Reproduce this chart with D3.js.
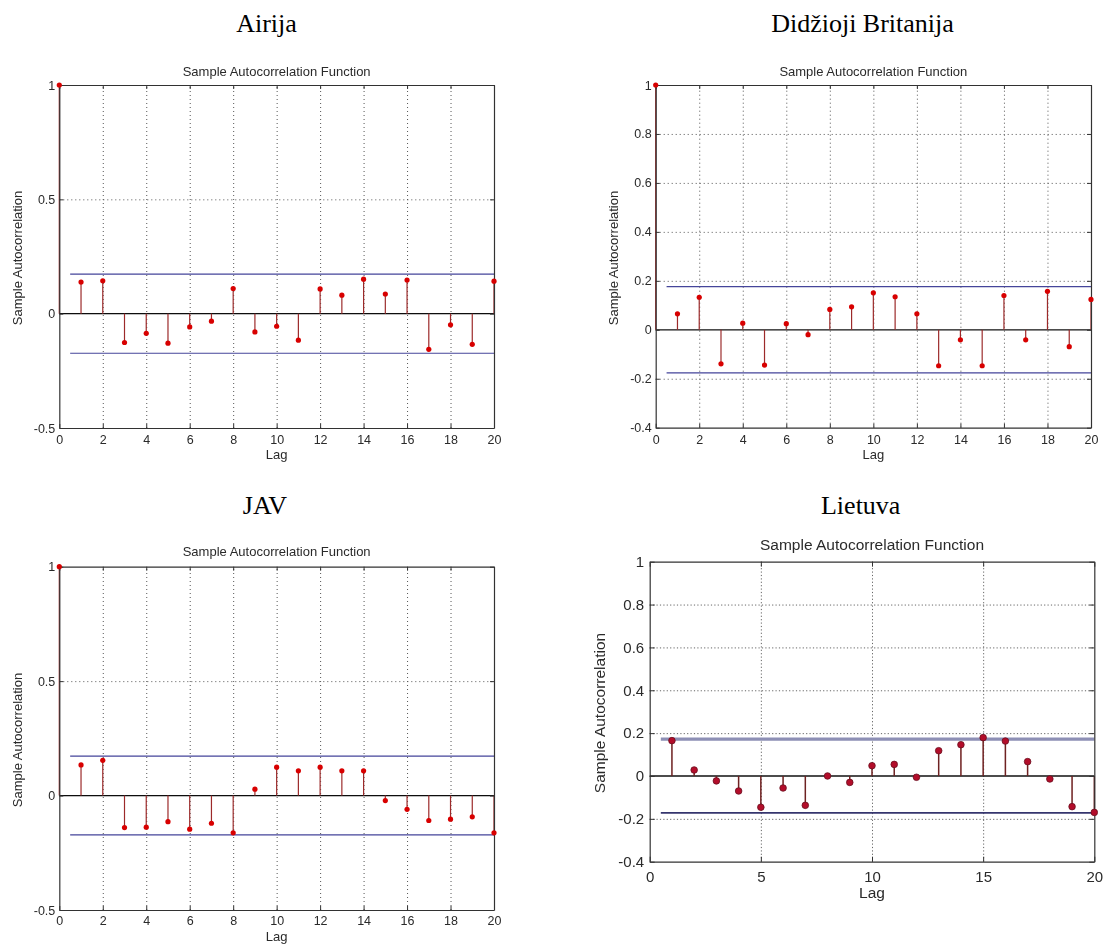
<!DOCTYPE html>
<html>
<head>
<meta charset="utf-8">
<script src="https://cdn.jsdelivr.net/npm/d3@7"></script>
<style>
  body { margin: 0; background: #fff; }
  svg { display: block; }
</style>
</head>
<body>
<svg id="chart" width="1106" height="945"></svg>
<script>
// Lags and sample autocorrelations for each country
const lagsFull = [0, 1, 2, 3, 4, 5, 6, 7, 8, 9, 10, 11, 12, 13, 14, 15, 16, 17, 18, 19, 20];
const lagsNoZero = [1, 2, 3, 4, 5, 6, 7, 8, 9, 10, 11, 12, 13, 14, 15, 16, 17, 18, 19, 20];

const acfAirija = [1, 0.138, 0.144, -0.126, -0.086, -0.129, -0.058, -0.033, 0.110, -0.080, -0.055,
                   -0.116, 0.108, 0.081, 0.151, 0.086, 0.147, -0.156, -0.049, -0.134, 0.142];
const acfBritanija = [1, 0.065, 0.133, -0.139, 0.027, -0.144, 0.025, -0.020, 0.083, 0.094, 0.151,
                      0.135, 0.065, -0.147, -0.041, -0.147, 0.140, -0.041, 0.157, -0.069, 0.124];
const acfJav = [1, 0.134, 0.154, -0.140, -0.138, -0.114, -0.147, -0.121, -0.163, 0.028, 0.124,
                0.108, 0.124, 0.108, 0.108, -0.022, -0.060, -0.109, -0.103, -0.093, -0.163];
const acfLietuva = [0.165, 0.028, -0.023, -0.070, -0.146, -0.056, -0.137, 0.000, -0.030, 0.048,
                    0.054, -0.006, 0.118, 0.146, 0.179, 0.163, 0.067, -0.014, -0.143, -0.170];

// Approximate 95% confidence bounds, drawn from lag 0.5 to the last lag
const boundAirija = 0.173;
const boundBritanija = 0.176;
const boundJav = 0.172;
const boundLietuva = 0.172;
const boundStartLag = 0.5;

// Tick values
const xTicksByTwo = [0, 2, 4, 6, 8, 10, 12, 14, 16, 18, 20];
const xTicksByFive = [0, 5, 10, 15, 20];
const yTicksHalf = [-0.5, 0, 0.5, 1];
const yTicksFifth = [-0.4, -0.2, 0, 0.2, 0.4, 0.6, 0.8, 1];

const headings = ["Airija", "Didžioji Britanija", "JAV", "Lietuva"];
const plotTitle = "Sample Autocorrelation Function";
const xLabel = "Lag";
const yLabel = "Sample Autocorrelation";

const svg = d3.select("#chart");
const defs = svg.append("defs");
defs.append("filter").attr("id", "soft").attr("x", "-5%").attr("y", "-5%").attr("width", "110%").attr("height", "110%")
  .append("feGaussianBlur").attr("stdDeviation", 0.35);
defs.append("filter").attr("id", "softer").attr("x", "-5%").attr("y", "-5%").attr("width", "110%").attr("height", "110%")
  .append("feGaussianBlur").attr("stdDeviation", 0.6);

// Country headings above each panel
const headingPos = [[266.5, 32], [862.5, 32], [265, 514], [860.7, 514]];
svg.selectAll("text.heading").data(headings).join("text")
  .attr("class", "heading")
  .attr("x", (d, i) => headingPos[i][0])
  .attr("y", (d, i) => headingPos[i][1])
  .attr("text-anchor", "middle")
  .style("font-family", "'Liberation Serif', 'Times New Roman', serif")
  .style("font-size", "26px")
  .style("fill", "#000")
  .text(d => d);

function drawPanel(p) {
  const g = svg.append("g").attr("filter", `url(#${p.filter})`);
  const x = d3.scaleLinear().domain([0, 20]).range([p.left, p.right]);
  const y = d3.scaleLinear().domain(p.yDomain).range([p.bottom, p.top]);
  const w = p.right - p.left, h = p.bottom - p.top;
  const font = "'Liberation Sans', Arial, Helvetica, sans-serif";

  // Dotted grid
  const gridX = p.xTicks.filter(v => v !== 0 && v !== 20);
  const gridY = p.yTicks.filter(v => v !== 0 && v !== p.yDomain[0] && v !== p.yDomain[1]);
  g.append("g").attr("transform", `translate(0,${p.bottom})`)
    .call(d3.axisBottom(x).tickValues(gridX).tickSize(-h).tickFormat(""))
    .call(a => a.select(".domain").remove())
    .call(a => a.selectAll("line").attr("stroke", p.gridColor).attr("stroke-dasharray", p.gridDash));
  g.append("g").attr("transform", `translate(${p.left},0)`)
    .call(d3.axisLeft(y).tickValues(gridY).tickSize(-w).tickFormat(""))
    .call(a => a.select(".domain").remove())
    .call(a => a.selectAll("line").attr("stroke", p.gridColor).attr("stroke-dasharray", p.gridDash));

  // Zero line
  g.append("line")
    .attr("x1", x(0)).attr("x2", x(20)).attr("y1", y(0)).attr("y2", y(0))
    .attr("stroke", "#111").attr("stroke-width", p.zeroWidth);

  // Confidence bounds
  [p.bound, -p.bound].forEach((b, i) => {
    g.append("line")
      .attr("x1", x(boundStartLag)).attr("x2", x(20)).attr("y1", y(b)).attr("y2", y(b))
      .attr("stroke", i === 0 ? p.upperColor : p.lowerColor)
      .attr("stroke-width", i === 0 ? p.upperWidth : p.lowerWidth);
  });

  // Stems and markers
  const pts = p.lags.map((l, i) => ({ lag: l, v: p.values[i] }));
  g.selectAll("line.stem").data(pts).join("line")
    .attr("class", "stem")
    .attr("x1", d => x(d.lag)).attr("x2", d => x(d.lag))
    .attr("y1", y(0)).attr("y2", d => y(d.v))
    .attr("stroke", p.stemColor).attr("stroke-width", p.stemWidth);

  // Axes box with inward ticks
  const tickLen = p.tickLen;
  const styleAxis = a => {
    a.select(".domain").attr("stroke", "#333").attr("stroke-width", 1.2);
    a.selectAll(".tick line").attr("stroke", "#333");
    a.selectAll("text").style("font-family", font).style("font-size", p.tickFont + "px").attr("fill", "#2a2a2a");
  };
  g.append("g").attr("transform", `translate(0,${p.bottom})`)
    .call(d3.axisBottom(x).tickValues(p.xTicks).tickSizeInner(-tickLen).tickSizeOuter(0)
      .tickPadding(p.xPad).tickFormat(d => String(d)))
    .call(styleAxis);
  g.append("g").attr("transform", `translate(0,${p.top})`)
    .call(d3.axisTop(x).tickValues(p.xTicks).tickSizeInner(-tickLen).tickSizeOuter(0).tickFormat(""))
    .call(styleAxis);
  g.append("g").attr("transform", `translate(${p.left},0)`)
    .call(d3.axisLeft(y).tickValues(p.yTicks).tickSizeInner(-tickLen).tickSizeOuter(0)
      .tickPadding(p.yPad).tickFormat(d => String(d)))
    .call(styleAxis);
  g.append("g").attr("transform", `translate(${p.right},0)`)
    .call(d3.axisRight(y).tickValues(p.yTicks).tickSizeInner(-tickLen).tickSizeOuter(0).tickFormat(""))
    .call(styleAxis);

  g.selectAll("circle.pt").data(pts).join("circle")
    .attr("class", "pt")
    .attr("cx", d => x(d.lag)).attr("cy", d => y(d.v))
    .attr("r", p.markerR)
    .attr("fill", p.markerColor)
    .attr("stroke", p.markerStroke).attr("stroke-width", p.markerStroke === "none" ? 0 : 0.8);

  // Title and axis labels
  g.append("text")
    .attr("x", (p.left + p.right) / 2).attr("y", p.top - p.titleGap)
    .attr("text-anchor", "middle")
    .style("font-family", font).style("font-size", p.titleFont + "px").attr("fill", "#2a2a2a")
    .text(plotTitle);
  g.append("text")
    .attr("x", (p.left + p.right) / 2).attr("y", p.bottom + p.lagGap)
    .attr("text-anchor", "middle")
    .style("font-family", font).style("font-size", p.labelFont + "px").attr("fill", "#2a2a2a")
    .text(xLabel);
  g.append("text")
    .attr("transform", `translate(${p.left - p.yLabelGap},${p.yLabelCenter}) rotate(-90)`)
    .attr("text-anchor", "middle")
    .style("font-family", font).style("font-size", p.labelFont + "px").attr("fill", "#2a2a2a")
    .text(yLabel);
}

const smallStyle = {
  xTicks: xTicksByTwo, tickLen: 4, xPad: 7, yPad: 4, tickFont: 12.5, titleFont: 13, labelFont: 13,
  titleGap: 9.5, lagGap: 31, yLabelGap: 37.5,
  gridColor: "#555", gridDash: "1,3", zeroWidth: 1.2,
  upperColor: "#45459a", lowerColor: "#45459a", upperWidth: 1.2, lowerWidth: 1.2,
  stemColor: "#9c2b2b", stemWidth: 1.2, markerR: 2.6, markerColor: "#d80000", markerStroke: "none",
  filter: "soft"
};

drawPanel(Object.assign({}, smallStyle, {
  left: 59.3, right: 494, top: 85, bottom: 428, yLabelCenter: 258,
  yDomain: [-0.5, 1], yTicks: yTicksHalf, lags: lagsFull, values: acfAirija, bound: boundAirija
}));
drawPanel(Object.assign({}, smallStyle, {
  left: 655.7, right: 1091, top: 85, bottom: 427.7, yLabelCenter: 258,
  yDomain: [-0.4, 1], yTicks: yTicksFifth, lags: lagsFull, values: acfBritanija, bound: boundBritanija
}));
drawPanel(Object.assign({}, smallStyle, {
  left: 59.3, right: 494, top: 566.7, bottom: 910, yLabelCenter: 740, titleGap: 10.5, xPad: 6.5,
  yDomain: [-0.5, 1], yTicks: yTicksHalf, lags: lagsFull, values: acfJav, bound: boundJav
}));
drawPanel({
  left: 649.7, right: 1094.3, top: 561.7, bottom: 861.7, yLabelCenter: 713,
  yDomain: [-0.4, 1], yTicks: yTicksFifth, lags: lagsNoZero, values: acfLietuva, bound: boundLietuva,
  xTicks: xTicksByFive, tickLen: 5, xPad: 9.5, yPad: 5.5, tickFont: 15, titleFont: 15.5, labelFont: 15.5,
  titleGap: 12, lagGap: 36, yLabelGap: 44.5,
  gridColor: "#666", gridDash: "1.2,2.2", zeroWidth: 1.5,
  upperColor: "#8d8fb5", lowerColor: "#35356e", upperWidth: 3.2, lowerWidth: 1.6,
  stemColor: "#6e2020", stemWidth: 1.5, markerR: 3.3, markerColor: "#b3102a", markerStroke: "#6a1020",
  filter: "softer"
});
</script>
</body>
</html>
